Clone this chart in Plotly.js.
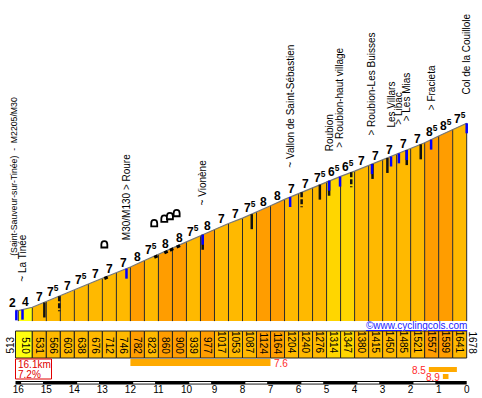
<!DOCTYPE html>
<html><head><meta charset="utf-8">
<script src="https://cdn.plot.ly/plotly-3.0.1.min.js"></script>
<style>html,body{margin:0;padding:0;background:#fff}#chart{width:482px;height:398px}</style>
</head><body><div id="chart"></div>
<script>
// ---- data ----
const kmPoints = [16.1,16,15.5,15,14.5,14,13.5,13,12.5,12,11.5,11,10.5,10,9.5,9,8.5,8,7.5,7,6.5,6,5.5,5,4.5,4,3.5,3,2.5,2,1.5,1,0.5,0];
const altitudes = [513,510,531,566,603,638,676,712,746,782,823,860,900,939,977,1017,1053,1087,1124,1164,1204,1240,1276,1314,1347,1380,1415,1450,1485,1521,1557,1599,1641,1678];
const gradients = [2,4,7,7.5,7,7.5,7,7,7,8,7.5,8,8,7.5,8,7,7,7.5,8,8,7,7,7.5,6.5,6.5,7,7,7,7,7,8.5,8.5,7.5];
const placeNames = ["(Saint-Sauveur-sur-Tinée)\u00a0\u00a0-\u00a0\u00a0M2205/M30","~ La Tinée","M30/M130 > Roure","~ Vionène","~ Vallon de Saint-Sébastien","Roubion","> Roubion-haut village","> Roubion-Les Buisses","Les Villars","> Libac","> Les Mias","> Fracieta","Col de la Couillole"];
const placeKm = [16.15,15.85,12.14,9.42,6.30,4.91,4.52,3.38,2.70,2.42,2.14,1.27,0];
const blueMarkKm = [16.07,15.85,12.14,9.42,6.30,4.91,4.52,3.38,2.70,2.42,2.14,1.27,0];
const blackMarkKm = [15.07,9.42,7.67,5.24,4.91,3.36,2.83,2.14,1.64];
const dashMarkKm = [14.54,5.89,4.12];
const tunnelKm = [12.93,11.15,10.79,10.59,10.35];
const totalKm = 16.1;
const avgGradient = 7.2;
const steepFrom = [12,1.35,0.85];
const steepTo = [7,0.35,0.65];
const steepGrad = [7.6,8.5,8.9];
const kmTicks = [0,1,2,3,4,5,6,7,8,9,10,11,12,13,14,15,16];
const siteText = "©www.cyclingcols.com";

// ---- styling / layout helpers ----
const W = 482, H = 398;
const FONT = "Liberation Sans, Arial, sans-serif";
const xRange = [16.653, -0.546];
const yRange = [-34.4, 2446.6];
const baseAlt = 445;
const pxPerM = H / (yRange[1] - yRange[0]);
const py = p => 1 - p / H;      // pixel y -> paper
const pxp = p => p / W;         // pixel x -> paper
const placeLift = [53,27,28,28,28,28,28,28,28,28,28,28,28];
const placeSize = [8.7,10,10,10,10,10,10,10,10,10,10,10,10];

function colorFor(g) {
  if (g < 3) return '#ffffff';
  if (g < 5) return '#ffff10';
  if (g < 6.75) return '#ffd600';
  if (g < 7.75) return '#ffb900';
  return '#ff9d00';
}
function altAt(k) {
  for (let i = 0; i < kmPoints.length - 1; i++) {
    const a = kmPoints[i], b = kmPoints[i+1];
    if (k <= a && k >= b) return altitudes[i] + (altitudes[i+1]-altitudes[i]) * (a - k) / (a - b);
  }
  return k > kmPoints[0] ? altitudes[0] : altitudes[altitudes.length-1];
}
function gradText(g) {
  return (g % 1) ? Math.floor(g) + '<sup>5</sup>' : String(g);
}

const traces = [];
// segment fills
for (let i = 0; i < gradients.length; i++) {
  const k0 = kmPoints[i], k1 = kmPoints[i+1];
  traces.push({
    type: 'scatter', mode: 'lines', x: [k0,k0,k1,k1,k0],
    y: [baseAlt, altitudes[i], altitudes[i+1], baseAlt, baseAlt],
    fill: 'toself', fillcolor: colorFor(gradients[i]), line: {width: 0},
    hoverinfo: 'skip'
  });
}
// separators
const sx = [], sy = [];
for (let i = 1; i < kmPoints.length; i++) {
  sx.push(kmPoints[i], kmPoints[i], null);
  sy.push(baseAlt, altitudes[i], null);
}
traces.push({type:'scatter', mode:'lines', x: sx, y: sy, line:{color:'#2a2a2a', width:1}, hoverinfo:'skip'});
// profile outline
traces.push({type:'scatter', mode:'lines', x: kmPoints, y: altitudes, line:{color:'#777', width:1.2}, hoverinfo:'skip'});

const shapes = [];
const annotations = [];

// markers
blackMarkKm.forEach(k => {
  const a = altAt(k);
  shapes.push({type:'line', xref:'x', yref:'y', x0:k, x1:k, y0:a, y1:a - 15/pxPerM, line:{color:'#111', width:2.5}});
});
dashMarkKm.forEach(k => {
  const a = altAt(k);
  shapes.push({type:'line', xref:'x', yref:'y', x0:k, x1:k, y0:a, y1:a - 15/pxPerM, line:{color:'#111', width:2.5, dash:'5px,2px'}});
});
blueMarkKm.forEach(k => {
  const a = altAt(k);
  shapes.push({type:'line', xref:'x', yref:'y', x0:k, x1:k, y0:a, y1:a - 10/pxPerM, line:{color:'#0000ff', width:2.5}});
});
tunnelKm.forEach(k => {
  shapes.push({type:'line', xref:'x', yref:'y', x0:k, x1:k-0.12, y0:altAt(k)-1/pxPerM, y1:altAt(k-0.12)-1/pxPerM, line:{color:'#000', width:3}});
  shapes.push({type:'path', xref:'x', yref:'y', xsizemode:'pixel', ysizemode:'pixel', xanchor:k, yanchor:altAt(k),
    path:'M-3,30 L-3,33 C-3,37.5 3,37.5 3,33 L3,30 Z', fillcolor:'#fff', line:{color:'#000', width:1.8}});
});

// gradient labels
gradients.forEach((g, i) => {
  const c = (kmPoints[i] + kmPoints[i+1]) / 2;
  annotations.push({x:c, y:altAt(c), xref:'x', yref:'y', text:gradText(g), showarrow:false,
    xanchor:'center', yanchor:'bottom', yshift:-2, xshift: i === 0 ? -4 : 0,
    font:{family:FONT, size:12, weight:'bold', color:'#000'}});
});

// place labels
placeNames.forEach((n, i) => {
  const k = placeKm[i];
  annotations.push({x:k, y:altAt(Math.min(k, kmPoints[0])), xref:'x', yref:'y', text:n, textangle:-90, showarrow:false,
    xanchor:'center', yanchor:'bottom', yshift:placeLift[i]-1,
    font:{family:FONT, size:placeSize[i], color:'#000'}});
});

// altitude band
for (let i = 1; i < gradients.length; i++) {
  const x0 = (i === 1) ? kmPoints[0] : kmPoints[i];
  shapes.push({type:'rect', xref:'x', yref:'paper', x0:x0, x1:kmPoints[i+1], y0:py(358), y1:py(331),
    fillcolor:colorFor(gradients[i]), line:{color:'#222', width:1}, layer:'below'});
  annotations.push({x:(kmPoints[i]+kmPoints[i+1])/2, y:py(356), xref:'x', yref:'paper', text:String(altitudes[i]),
    textangle:90, showarrow:false, xanchor:'center', yanchor:'bottom', font:{family:FONT, size:10, color:'#000'}});
}
annotations.push({x:pxp(10), y:py(356), xref:'paper', yref:'paper', text:String(altitudes[0]), textangle:-90,
  showarrow:false, xanchor:'center', yanchor:'bottom', font:{family:FONT, size:10, color:'#000'}});
annotations.push({x:pxp(472), y:py(356), xref:'paper', yref:'paper', text:String(altitudes[altitudes.length-1]), textangle:90,
  showarrow:false, xanchor:'center', yanchor:'bottom', font:{family:FONT, size:10, color:'#000'}});

// site text
annotations.push({x:pxp(469), y:py(325.5), xref:'paper', yref:'paper', text:'<u>'+siteText+'</u>', showarrow:false,
  xanchor:'right', yanchor:'middle', font:{family:FONT, size:10, color:'#1a1aff'}});

// red summary box
shapes.push({type:'rect', xref:'paper', yref:'paper', x0:pxp(15.5), x1:pxp(51.5), y0:py(379), y1:py(359),
  line:{color:'#e00000', width:1}, fillcolor:'rgba(0,0,0,0)'});
annotations.push({x:pxp(17), y:py(364.5), xref:'paper', yref:'paper', text:totalKm+'km', showarrow:false, borderpad:0,
  xanchor:'left', yanchor:'middle', font:{family:FONT, size:10, color:'#e00000'}});
annotations.push({x:pxp(17), y:py(374), xref:'paper', yref:'paper', text:avgGradient+'%', showarrow:false, borderpad:0,
  xanchor:'left', yanchor:'middle', font:{family:FONT, size:10, color:'#e00000'}});

// steepest stretches
const steepRows = [[359,366],[367,372],[374,379]];
steepGrad.forEach((g, i) => {
  const r = steepRows[i];
  shapes.push({type:'rect', xref:'x', yref:'paper', x0:steepFrom[i], x1:steepTo[i], y0:py(r[1]), y1:py(r[0]),
    fillcolor:'#ffaa00', line:{width:0}});
  const leftSide = i > 0;
  annotations.push({x: leftSide ? steepFrom[i] : steepTo[i], y:py((r[0]+r[1])/2 + 0.5), xref:'x', yref:'paper',
    text:String(g), showarrow:false, xanchor: leftSide ? 'right' : 'left', yanchor:'middle', borderpad:0,
    xshift: leftSide ? -2 : 2, font:{family:FONT, size:10, color:'#ff2a2a'}});
});

// km ruler
shapes.push({type:'rect', xref:'x', yref:'paper', x0:kmPoints[0], x1:0, y0:py(384.5), y1:py(381),
  fillcolor:'#000', line:{width:0}});
for (let k = 16; k >= 2; k -= 2) {
  shapes.push({type:'rect', xref:'x', yref:'paper', x0:k-0.1, x1:k-0.88, y0:py(383.6), y1:py(382),
    fillcolor:'#fff', line:{width:0}});
}

const layout = {
  width: W, height: H, margin:{l:0, r:0, t:0, b:0}, showlegend:false,
  paper_bgcolor:'#fff', plot_bgcolor:'#fff',
  xaxis:{range:xRange, domain:[0,1], anchor:'free', position:py(382), tickvals:kmTicks, ticktext:kmTicks.map(String),
    ticks:'', showgrid:false, zeroline:false, showline:false, tickfont:{family:FONT, size:10, color:'#000'}, fixedrange:true},
  yaxis:{range:yRange, domain:[0,1], visible:false, fixedrange:true},
  shapes: shapes, annotations: annotations
};
Plotly.newPlot('chart', traces, layout, {displayModeBar:false, staticPlot:true});
</script></body></html>
